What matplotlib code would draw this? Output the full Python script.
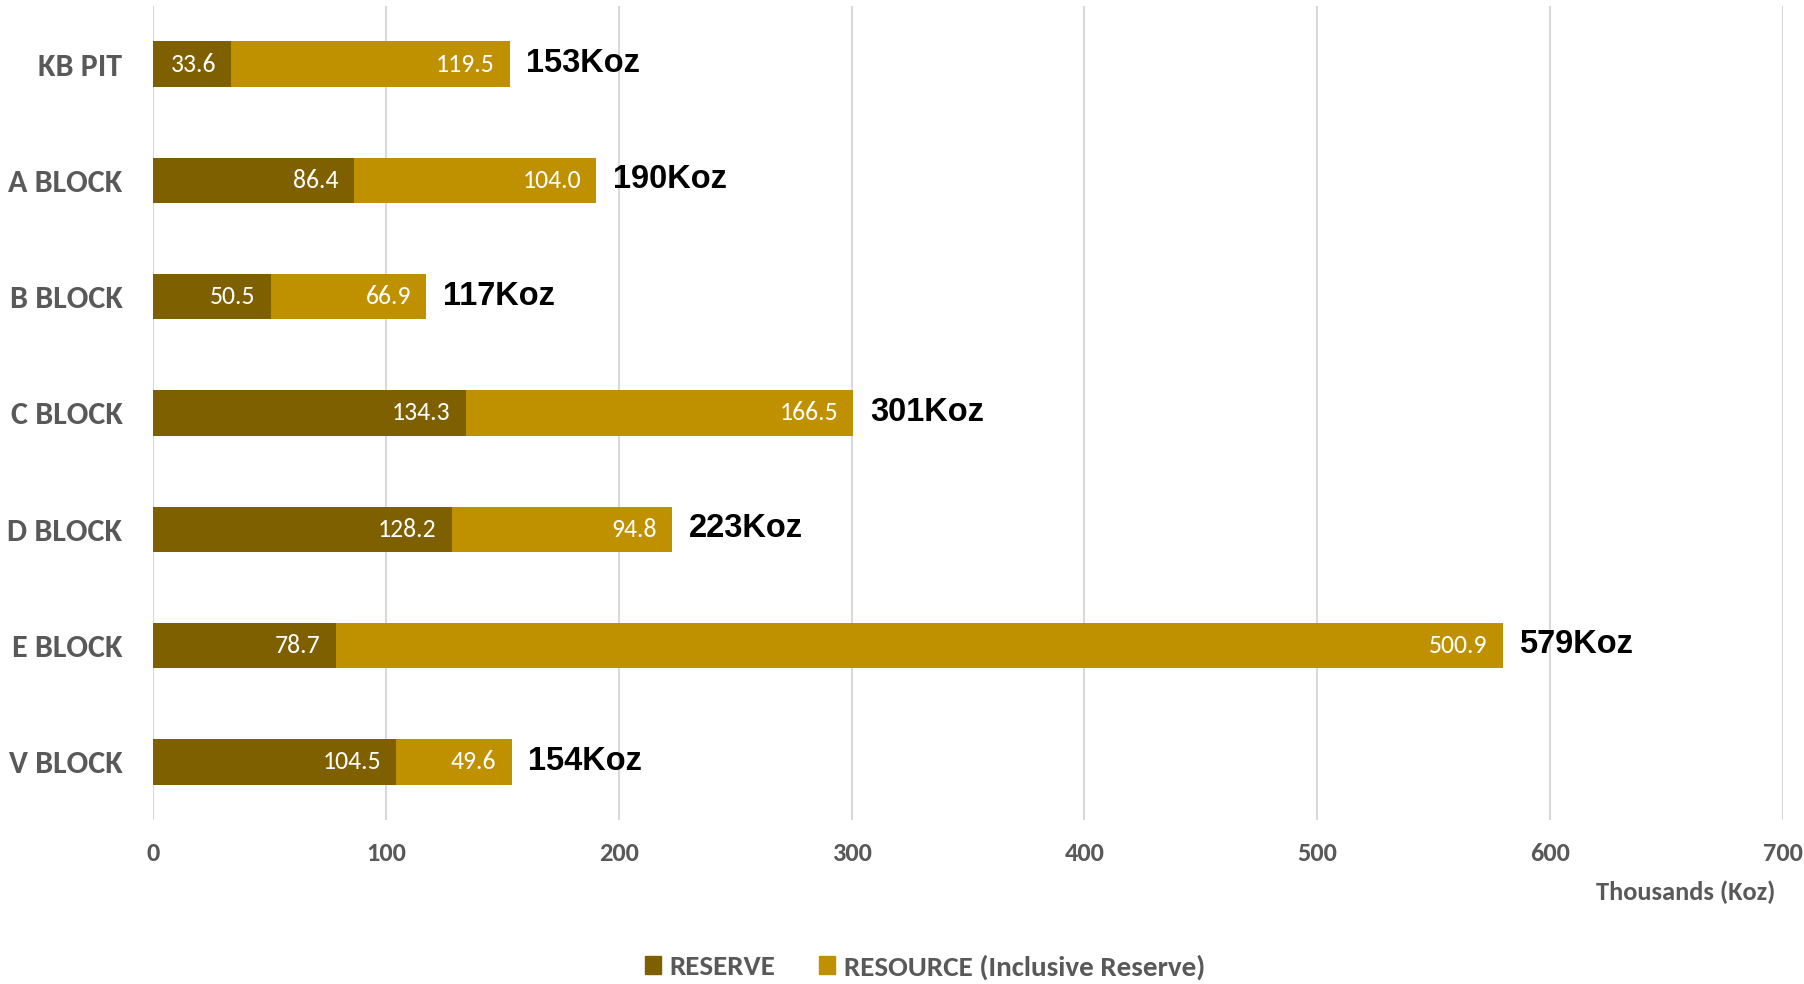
import matplotlib.pyplot as plt
from matplotlib.patches import Patch

blocks = ['KB PIT', 'A BLOCK', 'B BLOCK', 'C BLOCK', 'D BLOCK', 'E BLOCK', 'V BLOCK']
reserve = [33.6, 86.4, 50.5, 134.3, 128.2, 78.7, 104.5]
resource = [119.5, 104.0, 66.9, 166.5, 94.8, 500.9, 49.6]
totals = ['153Koz', '190Koz', '117Koz', '301Koz', '223Koz', '579Koz', '154Koz']

dark = '#7F6000'
gold = '#BF9000'
grey = '#595959'
narrow = ['Carlito', 'Liberation Sans Narrow', 'DejaVu Sans']

fig = plt.figure(figsize=(18.04, 9.84), dpi=100)
ax = fig.add_axes([153 / 1804, 1 - 820 / 984, (1783 - 153) / 1804, (820 - 6) / 984])

y = list(range(len(blocks)))
b1 = ax.barh(y, reserve, height=0.39, color=dark, zorder=3)
b2 = ax.barh(y, resource, left=reserve, height=0.39, color=gold, zorder=3)

# segment values sit just inside the right end of each segment
for bars in (b1, b2):
    for bar in bars:
        w = bar.get_width()
        ax.annotate(f'{w:.1f}', (bar.get_x() + w, bar.get_y() + bar.get_height() / 2),
                    xytext=(-11, 0), textcoords='offset points', ha='right', va='center',
                    color='white', fontsize=18.5, family=narrow, zorder=4)

# totals to the right of each stacked bar
for i in y:
    end = reserve[i] + resource[i]
    ax.annotate(totals[i], (end, i), xytext=(12, 0.5), textcoords='offset points',
                ha='left', va='center', fontsize=23.5, fontweight='bold',
                family='Liberation Sans', color='black', zorder=4)

ax.set_xlim(0, 700)
ax.set_ylim(len(blocks) - 0.5, -0.5)
ax.set_xticks(range(0, 701, 100))
ax.set_yticks(y)
ax.set_yticklabels(blocks)
for lab in ax.get_yticklabels():
    lab.set_family(narrow)
    lab.set_fontweight('bold')
    lab.set_fontsize(23)
    lab.set_color(grey)
for lab in ax.get_xticklabels():
    lab.set_family(narrow)
    lab.set_fontweight('bold')
    lab.set_fontsize(19)
    lab.set_color(grey)
ax.tick_params(axis='y', length=0, pad=22)
ax.tick_params(axis='x', length=0, pad=16)
ax.grid(axis='x', color='#D9D9D9', linewidth=1.5, zorder=0)
for s in ax.spines.values():
    s.set_visible(False)

fig.text(1775 / 1804, 1 - 892 / 984, 'Thousands (Koz)', ha='right', va='center',
         fontsize=19, fontweight='bold', color=grey, family=narrow)

handles = [Patch(color=dark, label='RESERVE'), Patch(color=gold, label='RESOURCE (Inclusive Reserve)')]
leg = fig.legend(handles=handles, loc='center', bbox_to_anchor=(925 / 1804, 1 - 967 / 984),
                 ncol=2, frameon=False, handlelength=0.55, handleheight=0.55,
                 handletextpad=0.3, columnspacing=1.5,
                 prop={'family': narrow, 'weight': 'bold', 'size': 21})
for t in leg.get_texts():
    t.set_color(grey)

fig.savefig('out.png', dpi=100)
